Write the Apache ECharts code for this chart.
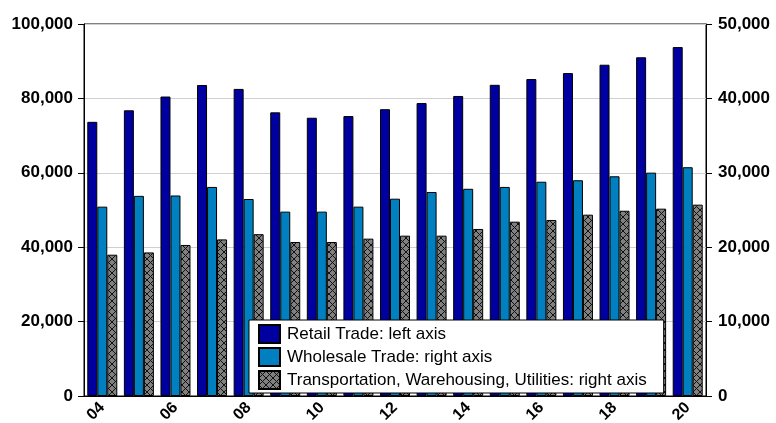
<!DOCTYPE html>
<html>
<head>
<meta charset="utf-8">
<script src="https://cdn.jsdelivr.net/npm/echarts@6/dist/echarts.min.js"></script>
<style>
  html, body { margin: 0; padding: 0; background: #fff; }
  #chart { width: 776px; height: 423px; }
</style>
</head>
<body>
<div id="chart"></div>
<script>
// years 2004-2020
var years = ['04', '05', '06', '07', '08', '09', '10', '11', '12', '13', '14', '15', '16', '17', '18', '19', '20'];
// left axis
var retail = [73700, 76800, 80500, 83600, 82550, 76250, 74800, 75250, 77100, 78750, 80650, 83650, 85200, 86800, 89050, 91050, 93800];
// right axis
var wholesale = [25450, 26900, 26950, 28100, 26480, 24780, 24780, 25450, 26520, 27420, 27850, 28100, 28800, 29000, 29530, 30020, 30750];
var transport = [18990, 19300, 20300, 21050, 21750, 20700, 20700, 21150, 21550, 21550, 22450, 23430, 23660, 24370, 24900, 25180, 25720];

var leftTicks = [0, 100000, 20000];
var rightTicks = [0, 50000, 10000];

// 交叉网纹
function hatch() {
    var c = document.createElement('canvas');
    c.width = 7; c.height = 7;
    var g = c.getContext('2d');
    g.fillStyle = '#808080';
    g.fillRect(0, 0, 7, 7);
    g.strokeStyle = '#111';
    g.lineWidth = 1;
    g.beginPath();
    g.moveTo(0, 0); g.lineTo(7, 7);
    g.moveTo(7, 0); g.lineTo(0, 7);
    g.stroke();
    return c;
}

function fmt(v) {
    return v.toString().replace(/\B(?=(\d{3})+(?!\d))/g, ',');
}

var labelStyle = { color: '#000', fontWeight: 'bold', fontSize: 17, fontFamily: 'Arial, Liberation Sans, sans-serif' };

var option = {
    animation: false,
    grid: {
        left: 84, right: 70, top: 24, bottom: 27,
        outerBoundsMode: 'none',
        show: true, borderColor: '#000', borderWidth: 1
    },
    legend: {
        orient: 'vertical',
        left: 249, top: 320,
        backgroundColor: '#fff',
        borderColor: '#000',
        borderWidth: 1,
        padding: [4, 17, 3, 9],
        icon: 'rect',
        itemWidth: 21,
        itemHeight: 18,
        itemGap: 3,
        textStyle: { color: '#000', fontSize: 17, fontFamily: 'Arial, Liberation Sans, sans-serif', padding: [0, 0, 0, 2] },
        data: ['Retail Trade: left axis', 'Wholesale Trade: right axis', 'Transportation, Warehousing, Utilities: right axis']
    },
    xAxis: {
        type: 'category',
        data: years,
        axisLine: { lineStyle: { color: '#000' } },
        axisTick: { show: false },
        axisLabel: Object.assign({ interval: 1, rotate: 45, margin: 9 }, labelStyle, { fontSize: 16 })
    },
    yAxis: [
        {
            type: 'value', min: leftTicks[0], max: leftTicks[1], interval: leftTicks[2],
            axisLine: { show: true, lineStyle: { color: '#000' } },
            axisTick: { show: true, length: 6, lineStyle: { color: '#000' } },
            axisLabel: Object.assign({ margin: 11, formatter: fmt }, labelStyle),
            splitLine: { lineStyle: { color: '#d0d0d0' } }
        },
        {
            type: 'value', min: rightTicks[0], max: rightTicks[1], interval: rightTicks[2],
            position: 'right',
            axisLine: { show: true, lineStyle: { color: '#000' } },
            axisTick: { show: true, length: 6, lineStyle: { color: '#000' } },
            axisLabel: Object.assign({ margin: 12, formatter: fmt }, labelStyle),
            splitLine: { show: false }
        }
    ],
    series: [
        {
            name: 'Retail Trade: left axis', type: 'bar', yAxisIndex: 0,
            data: retail, barGap: '0%', barCategoryGap: '18%',
            itemStyle: { color: '#0000A0', borderColor: '#000', borderWidth: 1 }
        },
        {
            name: 'Wholesale Trade: right axis', type: 'bar', yAxisIndex: 1,
            data: wholesale, barGap: '0%', barCategoryGap: '18%',
            itemStyle: { color: '#0080C0', borderColor: '#000', borderWidth: 1 }
        },
        {
            name: 'Transportation, Warehousing, Utilities: right axis', type: 'bar', yAxisIndex: 1,
            data: transport, barGap: '0%', barCategoryGap: '18%',
            itemStyle: { color: { image: hatch(), repeat: 'repeat' }, borderColor: '#000', borderWidth: 1 }
        }
    ]
};

var myChart = echarts.init(document.getElementById('chart'));
myChart.setOption(option);
</script>
</body>
</html>
